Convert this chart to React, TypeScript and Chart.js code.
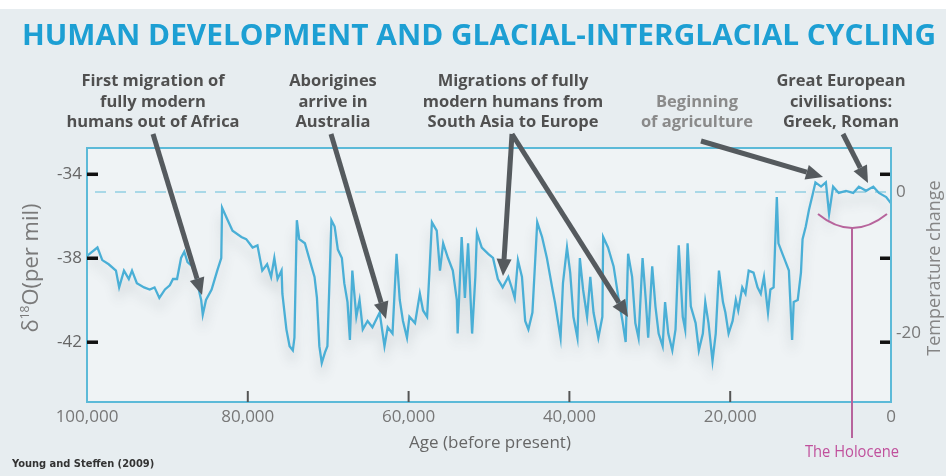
import { useEffect, useRef } from "react";
import { Chart, registerables } from "chart.js";
Chart.register(...registerables);

const FONT = "'Open Sans', 'Noto Sans', sans-serif";

// Age in years before present
const ages = [
  100000, 98700, 98100, 97300, 96400, 96000, 95400, 94800, 94400, 93800, 92900, 92200, 91600, 91000, 90300, 89700, 89300, 88800, 88300, 87900, 87500, 86900, 86400, 85800, 85600, 85200, 84500, 83800, 83300, 83200, 82500, 81900, 80800,
  80200, 79400, 78800, 78200, 77600, 77100, 76700, 76300, 75800, 75700, 75200, 74800, 74400, 74200, 73900, 73600, 72900, 72300, 71700, 71400, 71100, 70800, 70400, 70100, 69600, 69200, 68800, 68300, 68000, 67600, 67300, 67000, 66500, 66100, 65700, 65100, 64500, 63600, 63000, 62600, 62000, 61500, 61100,
  60700, 60200, 59900, 59200, 58600, 58200, 57700, 57400, 57100, 56500, 56100, 55700, 55100, 54500, 54000, 53900, 53400, 53000, 52600, 52100, 51700, 51500, 50900, 50100, 49500, 48900, 48300, 47600, 47100, 46800, 46400, 45900, 45500, 45100, 44600, 44000, 43400, 42800, 42100,
  41800, 41100, 40800, 40300, 39900, 39500, 39000, 38700, 38300, 37800, 37400, 37000, 36400, 35900, 35800, 35200, 34500, 33900, 33400, 33000, 32700, 32200, 31800, 31400, 30900, 30500, 30200, 29700, 29300, 28900, 28400, 28100, 27700, 27200, 26800, 26400, 25900, 25600, 25300, 24900, 24300, 23900, 23400, 23100, 22700,
  22200, 21800, 21400, 20900, 20600, 20200, 19700, 19300, 19000, 18500, 18100, 17700, 17100, 16600, 16200, 15800, 15300, 15000, 14600, 14200, 14000, 13500, 13100, 12700, 12300, 12100, 11600, 11200, 11000, 10600, 10200, 9700, 9400, 8700, 8100, 7700, 7200, 6500, 5600, 4700, 4000, 3100, 2200, 1500, 600, 0,
];

// δ18O (per mil)
const d18O = [
  -37.9, -37.5, -38.1, -38.3, -38.6, -39.4, -38.6, -39.0, -38.6, -39.2, -39.4, -39.5, -39.4, -39.9, -39.5, -39.3, -39.0, -39.0, -38.0, -37.7, -38.2, -38.4, -39.0, -40.0, -40.7, -40.0, -39.5, -38.6, -38.0, -35.6, -36.2, -36.7, -37.0,
  -37.1, -37.5, -37.4, -38.6, -38.3, -38.9, -38.0, -39.0, -38.6, -39.7, -41.4, -42.2, -42.4, -41.8, -36.2, -37.1, -37.3, -38.1, -38.9, -39.9, -42.2, -43.0, -42.5, -42.2, -36.2, -36.5, -37.6, -38.0, -39.2, -40.1, -41.9, -38.6, -40.8, -40.0, -41.4, -41.0, -41.3, -40.6, -42.2, -41.3, -41.6, -37.8, -40.0,
  -41.0, -41.8, -40.8, -41.1, -39.7, -40.5, -40.8, -38.6, -36.3, -36.7, -38.6, -37.3, -38.0, -38.6, -40.0, -41.6, -37.0, -39.9, -37.3, -41.6, -38.9, -36.8, -37.5, -37.8, -38.0, -39.0, -39.4, -38.9, -39.5, -39.9, -38.1, -38.9, -41.0, -41.4, -40.6, -36.3, -37.0, -38.0, -39.5,
  -40.1, -41.8, -39.2, -37.5, -38.7, -40.8, -41.8, -38.0, -39.5, -40.8, -38.9, -40.6, -41.8, -40.8, -37.0, -37.5, -38.4, -39.9, -41.0, -42.0, -37.8, -38.9, -41.1, -41.8, -38.0, -40.0, -41.8, -38.4, -40.3, -41.6, -42.2, -40.1, -41.6, -42.4, -41.4, -37.4, -40.8, -41.4, -37.3, -40.3, -41.1, -42.4, -41.6, -40.1, -41.1,
  -42.9, -41.6, -38.6, -40.1, -40.6, -41.6, -41.0, -40.0, -40.5, -39.4, -39.7, -38.6, -38.7, -39.4, -39.7, -38.9, -40.6, -39.5, -39.4, -35.1, -37.3, -37.8, -38.2, -38.6, -41.9, -40.1, -40.0, -38.7, -37.1, -36.5, -35.7, -34.9, -34.4, -34.6, -34.4, -35.9, -34.6, -34.9, -34.8, -34.9, -34.6, -34.8, -34.6, -34.9, -35.1, -35.4,
];

const xTicks = [100000, 80000, 60000, 40000, 20000, 0];
const yTicks = [-42, -38, -34];
const tempTicks = [-20, 0];

const TITLE = "HUMAN DEVELOPMENT AND GLACIAL-INTERGLACIAL CYCLING";
const notes = [
  { lines: ["First migration of", "fully modern", "humans out of Africa"], cx: 153, row0: 0, color: "#505050" },
  { lines: ["Aborigines", "arrive in", "Australia"], cx: 333, row0: 0, color: "#505050" },
  { lines: ["Migrations of fully", "modern humans from", "South Asia to Europe"], cx: 513, row0: 0, color: "#505050" },
  { lines: ["Beginning", "of agriculture"], cx: 697, row0: 1, color: "#8a8a8a" },
  { lines: ["Great European", "civilisations:", "Greek, Roman"], cx: 841, row0: 0, color: "#505050" },
];

function arrow(ctx: CanvasRenderingContext2D, x1: number, y1: number, x2: number, y2: number) {
  const a = Math.atan2(y2 - y1, x2 - x1);
  const hl = 17, hw = 7.5;
  const bx = x2 - hl * Math.cos(a), by = y2 - hl * Math.sin(a);
  ctx.save();
  ctx.strokeStyle = "#555a5e";
  ctx.fillStyle = "#555a5e";
  ctx.lineWidth = 5;
  ctx.lineCap = "butt";
  ctx.beginPath();
  ctx.moveTo(x1, y1);
  ctx.lineTo(bx, by);
  ctx.stroke();
  ctx.beginPath();
  ctx.moveTo(x2, y2);
  ctx.lineTo(bx + hw * Math.sin(a), by - hw * Math.cos(a));
  ctx.lineTo(bx - hw * Math.sin(a), by + hw * Math.cos(a));
  ctx.closePath();
  ctx.fill();
  ctx.restore();
}

const decor = {
  id: "decor",
  beforeDraw(chart: any) {
    const { ctx, chartArea: a } = chart;
    ctx.save();
    ctx.fillStyle = "#ffffff";
    ctx.fillRect(0, 0, 946, 476);
    ctx.fillStyle = "#e7edf0";
    ctx.fillRect(0, 9, 946, 467);
    ctx.fillStyle = "#eff3f5";
    ctx.fillRect(a.left, a.top, a.right - a.left, a.bottom - a.top);
    ctx.restore();
  },
  beforeDatasetsDraw(chart: any) {
    const { ctx, chartArea: a, scales } = chart;
    const y0 = scales.y2.getPixelForValue(0);
    ctx.save();
    ctx.strokeStyle = "#93cfe2";
    ctx.lineWidth = 1.5;
    ctx.setLineDash([11, 9]);
    ctx.beginPath();
    ctx.moveTo(a.left + 8, y0);
    ctx.lineTo(a.right, y0);
    ctx.stroke();
    ctx.restore();
  },
  beforeDatasetDraw(chart: any) {
    const ctx = chart.ctx;
    ctx.save();
    ctx.shadowColor = "rgba(70,80,90,0.22)";
    ctx.shadowBlur = 12;
    ctx.shadowOffsetY = 10;
  },
  afterDatasetDraw(chart: any) {
    chart.ctx.restore();
  },
  afterDraw(chart: any) {
    const { ctx, chartArea: a, scales } = chart;
    ctx.save();
    // frame
    ctx.strokeStyle = "#5cbad8";
    ctx.lineWidth = 2;
    ctx.strokeRect(a.left, a.top, a.right - a.left, a.bottom - a.top);
    // y tick marks (both sides)
    ctx.fillStyle = "#111";
    for (const v of yTicks) {
      const py = scales.y.getPixelForValue(v);
      ctx.fillRect(a.left, py - 1.5, 11, 3.5);
      ctx.fillRect(a.right - 11, py - 1.5, 10, 3.5);
    }
    // x tick marks
    ctx.strokeStyle = "#555";
    ctx.lineWidth = 2;
    for (const v of xTicks.slice(1, -1)) {
      const px = scales.x.getPixelForValue(v);
      ctx.beginPath();
      ctx.moveTo(px, a.bottom - 11);
      ctx.lineTo(px, a.bottom);
      ctx.stroke();
    }
    // title
    ctx.font = `bold 28px ${FONT}`;
    ctx.fillStyle = "#1d9fd3";
    ctx.textBaseline = "alphabetic";
    ctx.textAlign = "left";
    const tw = ctx.measureText(TITLE).width;
    ctx.save();
    ctx.translate(22, 45);
    ctx.scale(914 / tw, 1);
    ctx.fillText(TITLE, 0, 0);
    ctx.restore();
    // annotations
    ctx.font = `bold 16px ${FONT}`;
    ctx.textAlign = "center";
    const baselines = [86, 106.5, 127];
    for (const n of notes) {
      ctx.fillStyle = n.color;
      n.lines.forEach((l, i) => {
        ctx.save();
        ctx.translate(n.cx, baselines[n.row0 + i]);
        ctx.scale(1.03, 1);
        ctx.fillText(l, 0, 0);
        ctx.restore();
      });
    }
    arrow(ctx, 153, 134, 202, 295);
    arrow(ctx, 331, 134, 386, 319);
    arrow(ctx, 512, 134, 503, 276);
    arrow(ctx, 512, 134, 628, 317);
    arrow(ctx, 701, 141, 823, 177);
    arrow(ctx, 843, 134, 868, 183);
    // Holocene bracket
    ctx.strokeStyle = "#b7649c";
    ctx.lineWidth = 2;
    ctx.beginPath();
    ctx.moveTo(818, 214);
    ctx.quadraticCurveTo(852, 242, 887, 214);
    ctx.stroke();
    ctx.beginPath();
    ctx.moveTo(852, 228);
    ctx.lineTo(852, 438);
    ctx.stroke();
    ctx.font = `16px ${FONT}`;
    ctx.fillStyle = "#c0509c";
    ctx.textAlign = "center";
    ctx.save();
    ctx.translate(852, 457);
    ctx.scale(0.92, 1);
    ctx.fillText("The Holocene", 0, 0);
    ctx.restore();
    // x axis title
    ctx.font = `17px ${FONT}`;
    ctx.fillStyle = "#666";
    ctx.fillText("Age (before present)", 490, 448);
    // source
    ctx.font = `bold 11px 'Liberation Sans Narrow', 'DejaVu Sans Condensed', sans-serif`;
    ctx.fillStyle = "#333";
    ctx.textAlign = "left";
    ctx.fillText("Young and Steffen (2009)", 12, 467);
    // right axis title
    ctx.save();
    ctx.translate(935, 268);
    ctx.rotate(-Math.PI / 2);
    ctx.font = `18px ${FONT}`;
    ctx.fillStyle = "#858585";
    ctx.textAlign = "center";
    ctx.textBaseline = "middle";
    ctx.fillText("Temperature change", 0, 0);
    ctx.restore();
    // left axis title δ18O(per mil)
    ctx.save();
    ctx.translate(32, 268);
    ctx.rotate(-Math.PI / 2);
    ctx.fillStyle = "#7a7a7a";
    ctx.textBaseline = "middle";
    ctx.textAlign = "left";
    const big = `22px ${FONT}`, small = `12px ${FONT}`;
    ctx.font = big;
    const w1 = ctx.measureText("δ").width;
    const w3 = ctx.measureText("O(per mil)").width;
    ctx.font = small;
    const w2 = ctx.measureText("18").width;
    let x = -(w1 + w2 + w3) / 2;
    ctx.font = big;
    ctx.fillText("δ", x, 0);
    x += w1;
    ctx.font = small;
    ctx.fillText("18", x, -6);
    x += w2;
    ctx.font = big;
    ctx.fillText("O(per mil)", x, 0);
    ctx.restore();
    ctx.restore();
  },
};

export default function App() {
  const ref = useRef<HTMLCanvasElement>(null);
  useEffect(() => {
    const chart = new Chart(ref.current!, {
      type: "line",
      data: {
        datasets: [
          {
            data: ages.map((a, i) => ({ x: a, y: d18O[i] })),
            borderColor: "#4aafd6",
            borderWidth: 2.3,
            pointRadius: 0,
            tension: 0,
            fill: false,
            yAxisID: "y",
          },
        ],
      },
      options: {
        responsive: false,
        animation: false,
        layout: { padding: { top: 148, left: 0, right: 0, bottom: 0 } },
        plugins: { legend: { display: false }, tooltip: { enabled: false } },
        scales: {
          x: {
            type: "linear",
            reverse: true,
            min: 0,
            max: 100000,
            grid: { display: false, drawTicks: false },
            border: { display: false },
            ticks: {
              color: "#777",
              font: { family: FONT, size: 17 },
              padding: 5,
              maxRotation: 0,
              autoSkip: false,
              callback: (v: any) => Number(v).toLocaleString("en-US"),
            },
            afterBuildTicks: (s: any) => { s.ticks = xTicks.map((v) => ({ value: v })); },
            afterFit: (s: any) => { s.height = 74; },
          },
          y: {
            position: "left",
            min: -44.86,
            max: -32.76,
            grid: { display: false, drawTicks: false },
            border: { display: false },
            ticks: { color: "#666", font: { family: FONT, size: 17 }, padding: 5 },
            afterBuildTicks: (s: any) => { s.ticks = yTicks.map((v) => ({ value: v })); },
            afterFit: (s: any) => { s.width = 87; },
          },
          y2: {
            position: "right",
            display: true,
            min: -29.8,
            max: 6.24,
            grid: { display: false, drawTicks: false },
            border: { display: false },
            ticks: { color: "#777", font: { family: FONT, size: 17 }, padding: 5 },
            afterBuildTicks: (s: any) => { s.ticks = tempTicks.map((v) => ({ value: v })); },
            afterFit: (s: any) => { s.width = 55; },
          },
        },
      },
      plugins: [decor],
    } as any);
    return () => chart.destroy();
  }, []);
  return (
    <div style={{ position: "absolute", left: 0, top: 0, width: 946, height: 476 }}>
      <canvas ref={ref} width={946} height={476} style={{ display: "block" }} />
    </div>
  );
}
